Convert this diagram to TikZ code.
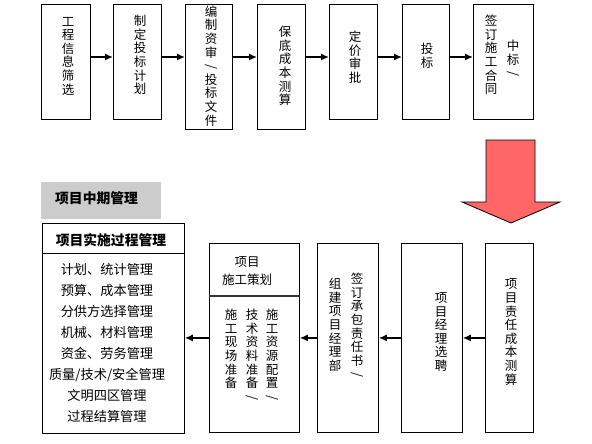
\documentclass[tikz,border=0pt]{standalone}
\usepackage{fontspec}
\setmainfont{Noto Sans CJK SC}
\usetikzlibrary{arrows.meta}
\definecolor{arrred}{RGB}{255,102,102}
\definecolor{titlegray}{RGB}{204,204,204}
\newcommand{\vslash}{\rotatebox[origin=c]{-90}{/}}
\begin{document}
\begin{tikzpicture}[x=1pt,y=-1pt,
  box/.style={draw, line width=0.8pt, inner sep=0pt, anchor=north west},
  vtext/.style={align=center, font=\fontsize{12.5}{13.6}\selectfont, inner sep=0pt},
  htext/.style={align=center, font=\fontsize{13.2}{20.9}\selectfont, inner sep=0pt},
  ttext/.style={font=\bfseries\fontsize{13.8}{15}\selectfont, inner sep=0pt},
  arr/.style={-{Latex[length=8pt,width=7pt]}, line width=1.4pt},
  divider/.style={line width=1.2pt, black!80}]
\useasboundingbox (0,0) rectangle (592,444);
% top row
\node[box, minimum width=49pt, minimum height=115pt] (b1) at (41,4) {};
\node[box, minimum width=48pt, minimum height=115pt] (b2) at (113,4) {};
\node[box, minimum width=47pt, minimum height=125pt] (b3) at (185,4) {};
\node[box, minimum width=48pt, minimum height=125pt] (b4) at (257,4) {};
\node[box, minimum width=48pt, minimum height=115pt] (b5) at (329,4) {};
\node[box, minimum width=47pt, minimum height=115pt] (b6) at (402,4) {};
\node[box, minimum width=60pt, minimum height=115pt] (b7) at (473,4) {};
\node[vtext] (t1) at (68,56) {工\\程\\信\\息\\筛\\选};
\node[vtext] (t2) at (140,55) {制\\定\\投\\标\\计\\划};
\node[vtext] (t3) at (211,66) {编\\制\\资\\审\\\vslash\\投\\标\\文\\件};
\node[vtext] (t4) at (285,66) {保\\底\\成\\本\\测\\算};
\node[vtext] (t5) at (355,57) {定\\价\\审\\批};
\node[vtext] (t6) at (427,56) {投\\标};
\node[vtext] (t7a) at (491,55) {签\\订\\施\\工\\合\\同};
\node[vtext] (t7b) at (513,59) {中\\标\\\vslash};
\coordinate (ar) at (0,57);
\draw[arr] (b1.east |- ar) -- (b2.west |- ar);
\draw[arr] (b2.east |- ar) -- (b3.west |- ar);
\draw[arr] (b3.east |- ar) -- (b4.west |- ar);
\draw[arr] (b4.east |- ar) -- (b5.west |- ar);
\draw[arr] (b5.east |- ar) -- (b6.west |- ar);
\draw[arr] (b6.east |- ar) -- (b7.west |- ar);
% big red arrow
\draw[fill=arrred, line width=0.8pt] (486,140) -- (535,140) -- (535,202) -- (560,202) -- (511,223) -- (462,202) -- (486,202) -- cycle;
% bottom row
\node[box, minimum width=48pt, minimum height=189pt] (r1) at (485,243) {};
\node[box, minimum width=61pt, minimum height=189pt] (r2) at (401,243) {};
\node[box, minimum width=61pt, minimum height=189pt] (r3) at (317,243) {};
\node[box, minimum width=90pt, minimum height=189pt] (r4) at (209,243) {};
\coordinate (d4) at (0,296);
\draw[divider] (r4.west |- d4) -- (r4.east |- d4);
\node[vtext] (u1) at (511,332) {项\\目\\责\\任\\成\\本\\测\\算};
\node[vtext] (u2) at (441,332) {项\\目\\经\\理\\选\\聘};
\node[vtext, anchor=north] (u3a) at (357,273) {签\\订\\承\\包\\责\\任\\书\\\vslash};
\node[vtext, anchor=north] (u3b) at (335,278) {组\\建\\项\\目\\经\\理\\部};
\node[vtext, font=\fontsize{12.5}{18}\selectfont] (u4) at (247,271) {项目\\施工策划};
\node[vtext, anchor=north] (u4a) at (272,309) {施\\工\\资\\源\\配\\置\\\vslash};
\node[vtext, anchor=north] (u4b) at (252,309) {技\\术\\资\\料\\准\\备\\\vslash};
\node[vtext, anchor=north] (u4c) at (231,309) {施\\工\\现\\场\\准\\备};
% left block
\node[box, draw=none, fill=titlegray, minimum width=120pt, minimum height=37pt] (g) at (41,182) {};
\node[ttext, anchor=west] (gt) at (55,198) {项目中期管理};
\node[box, minimum width=142pt, minimum height=210pt] (m) at (42,223) {};
\coordinate (dm) at (0,253);
\draw[line width=0.8pt] (m.west |- dm) -- (m.east |- dm);
\node[ttext] (mt) at (111,240) {项目实施过程管理};
\node[htext] (ml) at (107,343) {计划、统计管理\\预算、成本管理\\分供方选择管理\\机械、材料管理\\资金、劳务管理\\质量/技术/安全管理\\文明四区管理\\过程结算管理};
% bottom arrows
\draw[arr] (r1.west) -- (r2.east);
\draw[arr] (r2.west) -- (r3.east);
\draw[arr] (r3.west) -- (r4.east);
\draw[arr] (r4.west) -- (m.east |- r4.west);
\end{tikzpicture}
\end{document}
